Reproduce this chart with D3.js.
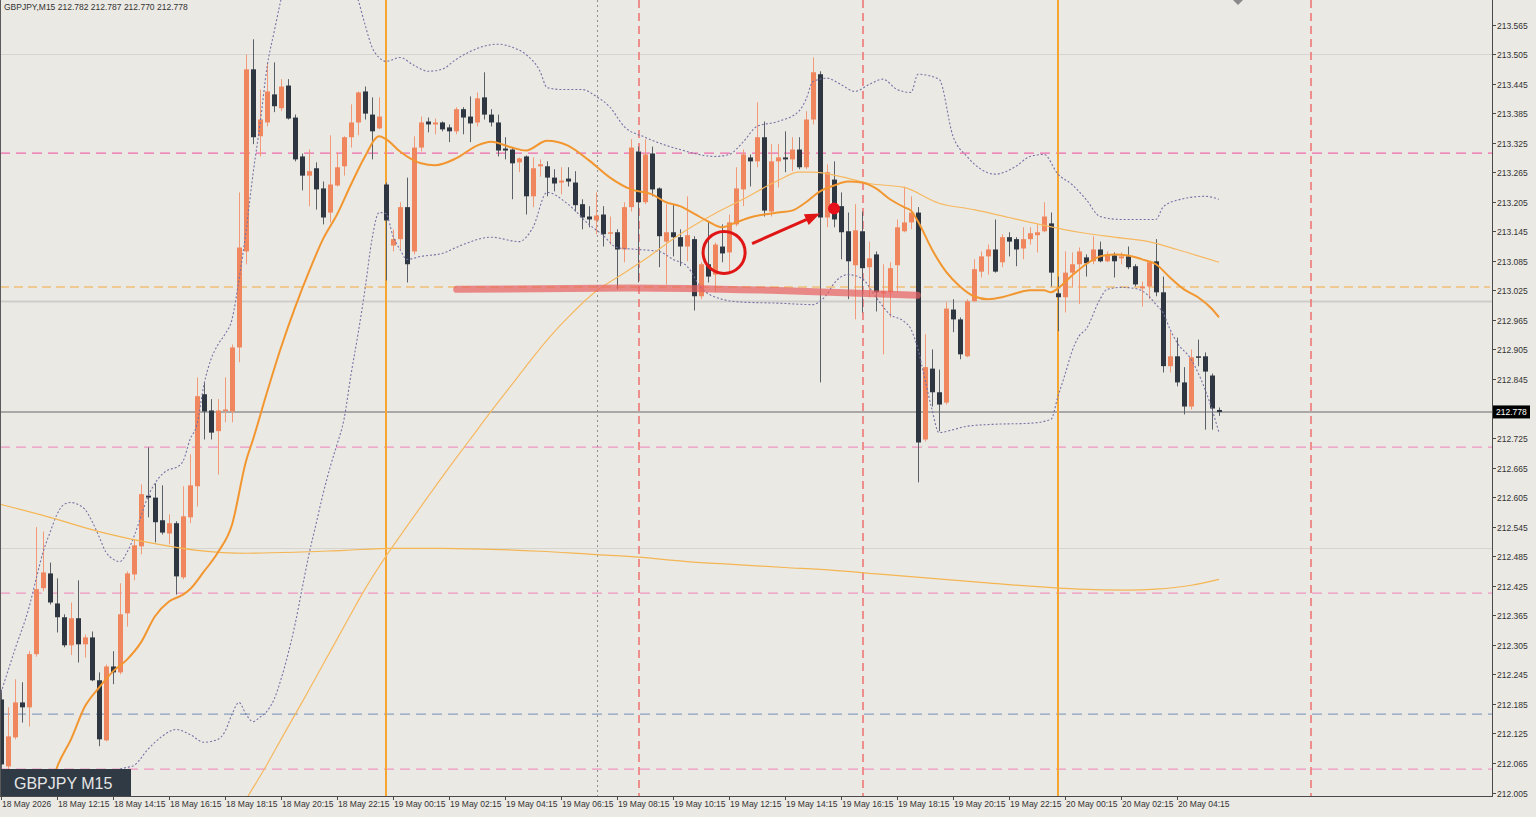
<!DOCTYPE html>
<html>
<head>
<meta charset="utf-8">
<script src="https://cdn.jsdelivr.net/npm/d3@7"></script>
<style>
  html, body { margin: 0; padding: 0; background: #ebe9e4; }
  svg { display: block; }
</style>
</head>
<body>
<svg id="chart" width="1536" height="817"></svg>
<script>
// GBPJPY M15 candles, bar 0 = 18 May 10:15
var opens = [212.194,212.058,212.117,212.188,212.178,212.286,212.420,212.450,212.389,212.361,
  212.304,212.359,212.306,212.320,212.233,212.111,212.261,212.249,212.369,212.448,
  212.505,212.608,212.604,212.558,212.531,212.552,212.442,212.564,212.627,212.814,
  212.781,212.739,212.781,212.779,212.909,213.104,213.474,213.338,213.366,213.423,
  213.395,213.441,213.376,213.297,213.258,213.273,213.232,213.183,213.238,213.277,
  213.336,213.366,213.429,213.382,213.354,213.240,213.116,213.129,213.194,213.104,
  213.315,213.368,213.362,213.366,213.356,213.348,213.393,213.378,213.366,213.417,
  213.382,213.366,213.313,213.311,213.285,213.297,213.216,213.277,213.277,213.254,
  213.244,213.252,213.244,213.200,213.175,213.167,213.179,213.141,213.143,213.108,
  213.194,213.307,213.204,213.303,213.232,213.124,213.143,213.133,213.114,213.129,
  213.013,213.078,213.057,213.114,213.102,213.159,213.230,213.295,213.287,213.336,
  213.185,213.287,213.295,213.291,213.311,213.275,213.372,213.464,213.173,213.250,
  213.196,213.145,213.076,213.145,213.072,213.098,213.019,213.021,213.076,213.145,
  213.163,213.183,212.722,212.866,212.818,212.797,212.986,212.966,212.891,213.003,
  213.063,213.094,213.108,213.082,213.133,213.129,213.110,213.129,213.137,213.145,
  213.161,213.019,213.011,213.061,213.078,213.092,213.084,213.108,213.084,213.096,
  213.090,213.094,213.074,213.029,213.033,213.084,213.021,212.871,212.891,212.838,
  212.789,212.891,212.891,212.852,212.782];
var highs = [212.214,212.178,212.235,212.229,212.292,212.544,212.535,212.472,212.440,212.367,
  212.391,212.436,212.326,212.332,212.249,212.265,212.292,212.430,212.454,212.519,
  212.631,212.706,212.633,212.629,212.570,212.556,212.627,212.692,212.848,212.838,
  212.804,212.804,212.848,212.915,213.224,213.504,213.535,213.433,213.488,213.488,
  213.454,213.454,213.382,213.303,213.311,213.285,213.246,213.340,213.305,213.338,
  213.403,213.429,213.439,213.417,213.417,213.244,213.149,213.204,213.254,213.338,
  213.378,213.376,213.374,213.368,213.362,213.397,213.397,213.419,213.427,213.468,
  213.393,213.382,213.336,213.315,213.295,213.299,213.295,213.291,213.287,213.271,
  213.275,213.275,213.267,213.210,213.196,213.224,213.196,213.175,213.149,213.204,
  213.332,213.317,213.332,213.317,213.234,213.200,213.200,213.149,213.216,213.135,
  213.082,213.165,213.122,213.159,213.179,213.275,213.311,213.301,213.407,213.368,
  213.322,213.322,213.348,213.336,213.336,213.389,213.498,213.470,213.281,213.287,
  213.224,213.183,213.200,213.185,213.124,213.104,213.078,213.082,213.169,213.236,
  213.216,213.194,212.936,212.905,212.864,213.001,213.007,212.970,213.007,213.088,
  213.104,213.118,213.169,213.139,213.143,213.133,213.153,213.153,213.159,213.204,
  213.183,213.053,213.104,213.102,213.112,213.098,213.135,213.124,213.104,213.102,
  213.102,213.114,213.078,213.043,213.084,213.129,213.053,212.940,212.929,212.869,
  212.905,212.925,212.899,212.856,212.787];
var lows = [212.052,212.052,212.113,212.147,212.139,212.281,212.414,212.387,212.330,212.300,
  212.284,212.269,212.279,212.231,212.099,212.109,212.225,212.245,212.342,212.436,
  212.489,212.564,212.513,212.529,212.509,212.407,212.438,212.552,212.586,212.722,
  212.722,212.651,212.757,212.757,212.879,213.078,213.322,213.297,213.358,213.387,
  213.389,213.372,213.287,213.228,213.196,213.189,213.159,213.163,213.236,213.258,
  213.315,213.340,213.372,213.291,213.352,213.045,213.104,213.108,213.041,213.098,
  213.307,213.346,213.342,213.348,213.326,213.342,213.342,213.326,213.358,213.372,
  213.358,213.297,213.291,213.210,213.265,213.179,213.194,213.256,213.216,213.226,
  213.220,213.236,213.185,213.149,213.153,213.139,213.114,213.118,213.027,213.082,
  213.185,213.041,213.200,213.216,213.072,213.037,213.094,213.074,213.084,212.984,
  213.007,213.041,213.021,213.082,213.063,213.155,213.196,213.236,213.275,213.175,
  213.175,213.234,213.265,213.267,213.271,213.271,213.362,212.838,213.153,213.153,
  213.088,213.007,212.966,212.980,213.011,212.982,212.895,212.970,213.021,213.143,
  213.149,212.635,212.718,212.789,212.739,212.793,212.940,212.885,212.889,213.001,
  213.051,213.057,213.061,213.072,213.094,213.074,213.088,213.118,213.102,213.143,
  213.033,212.942,212.980,213.031,212.997,213.053,213.078,213.082,213.082,213.051,
  213.078,213.068,213.033,212.992,213.007,213.013,212.858,212.858,212.830,212.773,
  212.783,212.871,212.742,212.742,212.770];
var closes = [212.062,212.119,212.188,212.178,212.286,212.418,212.452,212.391,212.361,212.304,
  212.359,212.306,212.320,212.233,212.113,212.261,212.249,212.367,212.450,212.507,
  212.611,212.604,212.554,212.533,212.552,212.444,212.566,212.629,212.810,212.779,
  212.736,212.781,212.783,212.909,213.112,213.474,213.336,213.372,213.429,213.399,
  213.439,213.374,213.291,213.258,213.267,213.230,213.173,213.240,213.275,213.336,
  213.366,213.427,213.384,213.348,213.378,213.167,213.129,213.194,213.078,213.315,
  213.366,213.362,213.366,213.352,213.348,213.393,213.376,213.364,213.415,213.382,
  213.366,213.309,213.309,213.283,213.293,213.216,213.273,213.281,213.254,213.242,
  213.248,213.246,213.198,213.173,213.169,213.177,213.139,213.143,213.108,213.194,
  213.315,213.204,213.301,213.230,213.135,213.143,213.133,213.114,213.137,213.013,
  213.078,213.053,213.118,213.100,213.163,213.232,213.301,213.287,213.336,213.187,
  213.287,213.295,213.291,213.311,213.275,213.372,213.468,213.173,213.265,213.169,
  213.143,213.084,213.147,213.070,213.090,213.021,213.023,213.070,213.153,213.163,
  213.183,212.716,212.869,212.818,212.793,212.988,212.966,212.895,213.003,213.068,
  213.094,213.108,213.063,213.133,213.124,213.108,213.129,213.141,213.143,213.175,
  213.061,213.011,213.061,213.078,213.104,213.080,213.108,213.084,213.098,213.084,
  213.094,213.072,213.037,213.033,213.082,213.021,212.871,212.891,212.838,212.789,
  212.889,212.889,212.860,212.785,212.778];

// indicator readings [bar, price]
var maFast = [[6,211.967],[7,212.011],[8,212.056],[10,212.113],[12,212.180],[14,212.218],[16,212.251],[18,212.275],
  [20,212.310],[22,212.363],[24,212.393],[26,212.407],[27,212.418],[29,212.454],[31,212.493],[33,212.549],
  [35,212.678],[36,212.722],[38,212.818],[40,212.909],[42,212.990],[44,213.063],[46,213.129],[48,213.179],
  [50,213.240],[52,213.297],[54,213.338],[55,213.332],[57,213.307],[60,213.283],[62,213.279],[65,213.293],
  [68,213.319],[70,213.327],[73,213.315],[75,213.309],[78,213.329],[81,213.319],[84,213.289],[87,213.254],
  [90,213.230],[93,213.220],[95,213.204],[97,213.196],[99,213.181],[101,213.165],[103,213.153],[105,213.163],
  [107,213.173],[109,213.179],[111,213.183],[113,213.187],[115,213.204],[117,213.226],[119,213.238],[121,213.246],
  [123,213.244],[125,213.232],[127,213.210],[129,213.194],[130,213.187],[131,213.165],[133,213.108],[135,213.063],
  [137,213.033],[139,213.013],[141,213.007],[143,213.011],[145,213.019],[147,213.025],[149,213.025],[150,213.021],
  [151,213.029],[153,213.055],[155,213.078],[157,213.094],[159,213.098],[161,213.096],[163,213.088],[165,213.078],
  [167,213.051],[169,213.027],[171,213.011],[173,212.987],[174,212.970]];
var maSlow = [[35,211.991],[38,212.062],[40,212.113],[43,212.188],[46,212.265],[49,212.342],[52,212.418],[55,212.485],
  [58,212.546],[61,212.606],[64,212.665],[67,212.722],[70,212.779],[73,212.834],[76,212.889],[79,212.940],
  [81,212.970],[85,213.023],[88,213.051],[92,213.088],[97,213.139],[102,213.181],[106,213.210],[111,213.248],
  [114,213.265],[116,213.265],[120,213.256],[124,213.242],[129,213.234],[134,213.202],[139,213.189],[144,213.173],
  [149,213.157],[154,213.143],[159,213.133],[164,213.124],[168,213.108],[174,213.082]];
var maLong = [[0,212.590],[7,212.564],[14,212.535],[21,212.513],[28,212.497],[35,212.491],[42,212.493],[49,212.497],
  [56,212.501],[63,212.501],[70,212.499],[77,212.495],[84,212.489],[91,212.483],[98,212.474],[105,212.468],
  [112,212.462],[119,212.456],[126,212.448],[133,212.440],[140,212.432],[147,212.424],[154,212.418],[161,212.416],
  [165,212.418],[170,212.426],[174,212.438]];
var bbUpper = [[0,212.208],[2,212.296],[4,212.381],[5,212.438],[6,212.493],[7,212.533],[8,212.570],[9,212.590],
  [10,212.594],[11,212.590],[12,212.580],[13,212.556],[14,212.525],[15,212.493],[16,212.479],[17,212.474],
  [18,212.493],[19,212.525],[20,212.566],[21,212.606],[22,212.633],[23,212.651],[24,212.661],[25,212.665],
  [26,212.678],[27,212.722],[28,212.753],[29,212.834],[30,212.885],[31,212.915],[32,212.936],[33,212.966],
  [34,213.047],[35,213.145],[36,213.261],[37,213.362],[38,213.478],[39,213.549],[40,213.616],[41,213.677],
  [44,213.738],[47,213.738],[50,213.657],[51,213.616],[52,213.565],[53,213.519],[54,213.498],[55,213.490],
  [57,213.498],[59,213.482],[61,213.470],[63,213.474],[65,213.494],[67,213.510],[69,213.521],[71,213.525],
  [73,213.519],[75,213.504],[77,213.470],[78,213.437],[80,213.433],[83,213.433],[85,213.419],[87,213.397],
  [89,213.358],[92,213.336],[97,213.311],[102,213.297],[104,213.301],[106,213.326],[108,213.358],[111,213.368],
  [114,213.389],[115,213.413],[116,213.449],[118,213.456],[120,213.443],[122,213.429],[124,213.443],[126,213.454],
  [128,213.433],[130,213.427],[131,213.464],[134,213.454],[136,213.338],[138,213.297],[140,213.271],[142,213.261],
  [145,213.277],[147,213.297],[149,213.301],[151,213.261],[153,213.240],[155,213.210],[157,213.175],[160,213.169],
  [165,213.169],[166,213.194],[168,213.208],[172,213.216],[174,213.210]];
var bbLower = [[0,211.788],[8,211.869],[14,211.971],[16,212.021],[17,212.052],[18,212.056],[19,212.060],[21,212.093],
  [23,212.119],[25,212.133],[27,212.123],[29,212.107],[31,212.113],[32,212.129],[33,212.164],[34,212.188],
  [35,212.164],[36,212.149],[37,212.158],[38,212.170],[39,212.194],[40,212.235],[41,212.286],[42,212.346],
  [43,212.418],[44,212.489],[45,212.550],[46,212.611],[47,212.665],[48,212.712],[49,212.763],[50,212.854],
  [51,212.936],[52,213.027],[53,213.129],[54,213.183],[55,213.181],[56,213.135],[57,213.108],[58,213.088],
  [60,213.094],[63,213.100],[66,213.118],[70,213.133],[74,213.124],[76,213.153],[78,213.224],[81,213.200],
  [84,213.159],[86,213.137],[88,213.112],[91,213.108],[94,213.104],[96,213.088],[98,213.074],[100,213.031],
  [103,213.007],[106,213.001],[111,212.999],[116,212.996],[117,213.003],[118,213.017],[119,213.039],[121,213.057],
  [123,213.049],[125,213.011],[127,212.976],[129,212.962],[130,212.946],[131,212.905],[132,212.844],[133,212.783],
  [134,212.736],[136,212.742],[138,212.749],[142,212.753],[147,212.755],[150,212.763],[151,212.810],[152,212.854],
  [153,212.901],[154,212.932],[155,212.946],[157,213.007],[158,213.027],[160,213.031],[162,213.029],[164,213.013],
  [165,212.996],[166,212.980],[167,212.946],[168,212.919],[170,212.885],[172,212.824],[173,212.783],[174,212.736]];

// levels and markers
var pinkLevels = [213.303, 212.706, 212.411, 212.052];
var blueLevel = 212.164;
var orangeLevel = 213.031;
var grayLevels = [213.505, 213.003, 212.501];
var lastPrice = 212.778;
var dayBars = [55, 151];
var sessionBars = [91, 123, 187];
var dottedBar = 85;
var zoneLine = [[65.1,213.027],[90,213.030],[110,213.025],[130.9,213.015]];
var circleAt = [103.3, 213.102];
var arrowFrom = [107.3, 213.120];
var arrowTo = [117, 213.181];
var dotAt = [119, 213.191];

var priceTicks = ["213.565","213.505","213.445","213.385","213.325","213.265","213.205","213.145","213.085",
  "213.025","212.965","212.905","212.845","212.785","212.725","212.665","212.605","212.545","212.485",
  "212.425","212.365","212.305","212.245","212.185","212.125","212.065","212.005"];
var timeLabels = ["18 May 2026","18 May 12:15","18 May 14:15","18 May 16:15","18 May 18:15","18 May 20:15",
  "18 May 22:15","19 May 00:15","19 May 02:15","19 May 04:15","19 May 06:15","19 May 08:15","19 May 10:15",
  "19 May 12:15","19 May 14:15","19 May 16:15","19 May 18:15","19 May 20:15","19 May 22:15","20 May 00:15",
  "20 May 02:15","20 May 04:15"];

var plotW = 1492, plotH = 796;
var font = "'Liberation Sans', Arial, sans-serif";

var svg = d3.select("#chart");

var x = d3.scaleLinear().domain([0, 168]).range([1, 1177]);
var y = d3.scaleLinear().domain([212.005, 213.565]).range([792.5, 24.5]);

svg.append("rect")
  .attr("width", 1536)
  .attr("height", 817)
  .attr("fill", "#ebe9e4");

svg.append("defs").append("clipPath")
  .attr("id", "plot")
  .append("rect")
  .attr("width", plotW)
  .attr("height", plotH);

var plot = svg.append("g").attr("clip-path", "url(#plot)");

// horizontal lines
grayLevels.forEach(function(p, i) {
  plot.append("line")
    .attr("x1", 0).attr("x2", plotW)
    .attr("y1", Math.round(y(p)) + 0.5).attr("y2", Math.round(y(p)) + 0.5)
    .attr("stroke", i == 1 ? "#cfcdca" : "#d6d4d0")
    .attr("stroke-width", i == 1 ? 2 : 1);
});

plot.append("line")
  .attr("x1", 0).attr("x2", plotW)
  .attr("y1", y(lastPrice)).attr("y2", y(lastPrice))
  .attr("stroke", "#a9a8a6")
  .attr("stroke-width", 2);

pinkLevels.forEach(function(p, i) {
  plot.append("line")
    .attr("x1", 0).attr("x2", plotW)
    .attr("y1", Math.round(y(p))).attr("y2", Math.round(y(p)))
    .attr("stroke", i == 0 ? "#f06aaa" : "#f095c0")
    .attr("stroke-width", 1.25)
    .attr("stroke-dasharray", "10,6");
});

plot.append("line")
  .attr("x1", 0).attr("x2", plotW)
  .attr("y1", Math.round(y(blueLevel))).attr("y2", Math.round(y(blueLevel)))
  .attr("stroke", "#8aa0c0")
  .attr("stroke-width", 1.25)
  .attr("stroke-dasharray", "10,6");

plot.append("line")
  .attr("x1", 0).attr("x2", plotW - 2)
  .attr("y1", Math.round(y(orangeLevel))).attr("y2", Math.round(y(orangeLevel)))
  .attr("stroke", "#f4aa3a")
  .attr("stroke-width", 1.2)
  .attr("stroke-dasharray", "9,5");

// vertical lines
dayBars.forEach(function(b) {
  plot.append("line")
    .attr("x1", x(b)).attr("x2", x(b))
    .attr("y1", 0).attr("y2", plotH)
    .attr("stroke", "#f5a531")
    .attr("stroke-width", 2);
});

sessionBars.forEach(function(b) {
  plot.append("line")
    .attr("x1", x(b) + 1).attr("x2", x(b) + 1)
    .attr("y1", 0).attr("y2", plotH)
    .attr("stroke", "#ee7070")
    .attr("stroke-width", 1.5)
    .attr("stroke-dasharray", "8,5");
});

plot.append("line")
  .attr("x1", x(dottedBar) + 1.5).attr("x2", x(dottedBar) + 1.5)
  .attr("y1", 0).attr("y2", plotH)
  .attr("stroke", "#8f8f8f")
  .attr("stroke-dasharray", "2,3");

// candles
var bars = d3.range(opens.length).map(function(i) {
  return { i: i, o: opens[i], h: highs[i], l: lows[i], c: closes[i] };
});
var bullBody = "#ef865d", bullWick = "#f29a78", bearBody = "#2e3741", bearWick = "#5a6068";

var candle = plot.selectAll(".candle")
  .data(bars)
  .enter().append("g")
  .attr("class", "candle");

candle.append("line")
  .attr("x1", function(d) { return x(d.i) + 0.5; })
  .attr("x2", function(d) { return x(d.i) + 0.5; })
  .attr("y1", function(d) { return y(d.h); })
  .attr("y2", function(d) { return y(d.l); })
  .attr("stroke", function(d) { return d.c >= d.o ? bullWick : bearWick; })
  .attr("stroke-width", 1);

candle.append("rect")
  .attr("x", function(d) { return x(d.i) - 2; })
  .attr("width", 5)
  .attr("y", function(d) { return y(Math.max(d.o, d.c)); })
  .attr("height", function(d) { return Math.max(1.5, Math.abs(y(d.o) - y(d.c))); })
  .attr("fill", function(d) { return d.c >= d.o ? bullBody : bearBody; });

// indicators
var line = d3.line()
  .x(function(d) { return x(d[0]); })
  .y(function(d) { return y(d[1]); })
  .curve(d3.curveMonotoneX);

[bbUpper, bbLower].forEach(function(band) {
  plot.append("path")
    .attr("d", line(band))
    .attr("fill", "none")
    .attr("stroke", "#7772a6")
    .attr("stroke-width", 1.1)
    .attr("stroke-dasharray", "2,2");
});

plot.append("path")
  .attr("d", line(maLong))
  .attr("fill", "none")
  .attr("stroke", "#f4b552")
  .attr("stroke-width", 1.2);

plot.append("path")
  .attr("d", line(maSlow))
  .attr("fill", "none")
  .attr("stroke", "#f6b860")
  .attr("stroke-width", 1.2);

plot.append("path")
  .attr("d", line(maFast))
  .attr("fill", "none")
  .attr("stroke", "#f29630")
  .attr("stroke-width", 2);

// drawn objects
plot.append("path")
  .attr("d", line(zoneLine))
  .attr("fill", "none")
  .attr("stroke", "#e8605f")
  .attr("stroke-opacity", 0.7)
  .attr("stroke-width", 7)
  .attr("stroke-linecap", "round");

plot.append("circle")
  .attr("cx", x(circleAt[0]))
  .attr("cy", y(circleAt[1]))
  .attr("r", 21)
  .attr("fill", "none")
  .attr("stroke", "#e01515")
  .attr("stroke-width", 3);

var ax1 = x(arrowFrom[0]), ay1 = y(arrowFrom[1]), ax2 = x(arrowTo[0]), ay2 = y(arrowTo[1]);
var ang = Math.atan2(ay2 - ay1, ax2 - ax1);
plot.append("line")
  .attr("x1", ax1).attr("y1", ay1)
  .attr("x2", ax2 - 10 * Math.cos(ang)).attr("y2", ay2 - 10 * Math.sin(ang))
  .attr("stroke", "#e01515")
  .attr("stroke-width", 3);
plot.append("path")
  .attr("d", "M0,0 L-15,-6 L-15,6 Z")
  .attr("fill", "#e01515")
  .attr("transform", "translate(" + ax2 + "," + ay2 + ") rotate(" + (ang * 180 / Math.PI) + ")");

plot.append("circle")
  .attr("cx", x(dotAt[0]))
  .attr("cy", y(dotAt[1]))
  .attr("r", 6)
  .attr("fill", "#e8101a");

// frame
svg.append("line")
  .attr("x1", 0.5).attr("x2", 0.5).attr("y1", 0).attr("y2", plotH)
  .attr("stroke", "#5a5a5a");
svg.append("line")
  .attr("x1", plotW + 0.5).attr("x2", plotW + 0.5).attr("y1", 0).attr("y2", plotH + 1)
  .attr("stroke", "#4a4a4a");
svg.append("line")
  .attr("x1", 0).attr("x2", plotW + 1).attr("y1", plotH + 0.5).attr("y2", plotH + 0.5)
  .attr("stroke", "#4a4a4a");

// price axis
var yAxis = svg.append("g").attr("class", "y axis");
priceTicks.forEach(function(t) {
  var ty = Math.round(y(+t));
  yAxis.append("line")
    .attr("x1", plotW + 1).attr("x2", plotW + 4)
    .attr("y1", ty + 0.5).attr("y2", ty + 0.5)
    .attr("stroke", "#4a4a4a");
  yAxis.append("text")
    .attr("x", plotW + 5)
    .attr("y", ty + 3.5)
    .style("font-family", font)
    .style("font-size", "8.5px")
    .style("fill", "#333")
    .text(t);
});

// last price tag
svg.append("rect")
  .attr("x", plotW + 1)
  .attr("y", y(lastPrice) - 6.5)
  .attr("width", 37)
  .attr("height", 13)
  .attr("fill", "#000");
svg.append("text")
  .attr("x", plotW + 4)
  .attr("y", y(lastPrice) + 3.5)
  .style("font-family", font)
  .style("font-size", "8.5px")
  .style("fill", "#fff")
  .text(lastPrice.toFixed(3));

// time axis
var xAxis = svg.append("g").attr("class", "x axis");
timeLabels.forEach(function(t, k) {
  var tx = Math.round(x(k * 8));
  xAxis.append("line")
    .attr("x1", tx + 0.5).attr("x2", tx + 0.5)
    .attr("y1", plotH).attr("y2", plotH + 4)
    .attr("stroke", "#4a4a4a");
  xAxis.append("text")
    .attr("x", tx + 1)
    .attr("y", plotH + 11)
    .style("font-family", font)
    .style("font-size", "8.5px")
    .style("fill", "#333")
    .text(t);
});

// header and symbol badge
svg.append("text")
  .attr("x", 4)
  .attr("y", 10)
  .style("font-family", font)
  .style("font-size", "8.5px")
  .style("fill", "#333")
  .text("GBPJPY,M15  212.782 212.787 212.770 212.778");

svg.append("path")
  .attr("d", "M1233,0 L1243,0 L1238,5 Z")
  .attr("fill", "#8a8a8a");

svg.append("rect")
  .attr("x", 1)
  .attr("y", 769)
  .attr("width", 130)
  .attr("height", 27)
  .attr("fill", "#2f3a45");
svg.append("text")
  .attr("x", 14)
  .attr("y", 789)
  .style("font-family", font)
  .style("font-size", "16px")
  .style("fill", "#e6e6e6")
  .text("GBPJPY M15");
</script>
</body>
</html>
